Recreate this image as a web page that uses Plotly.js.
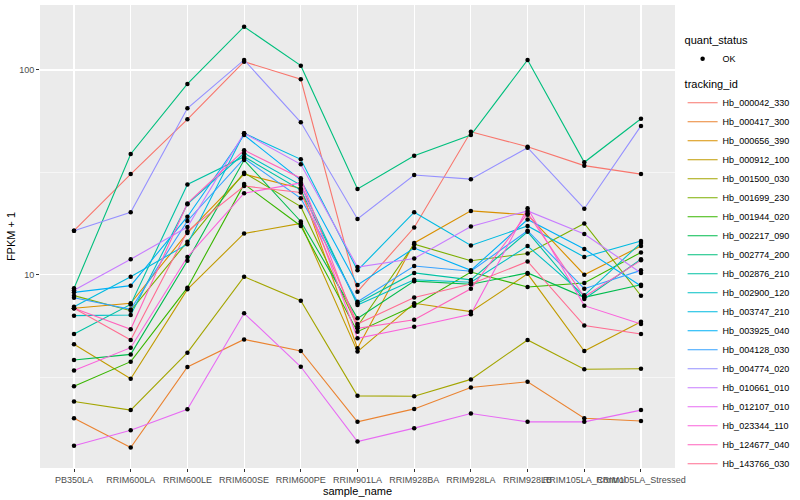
<!DOCTYPE html>
<html><head><meta charset="utf-8">
<script src="https://cdn.plot.ly/plotly-3.0.1.min.js"></script>
<style>html,body{margin:0;padding:0;background:#fff}#chart{width:800px;height:500px}</style>
</head><body><div id="chart"></div>
<script>
const categories = ["PB350LA","RRIM600LA","RRIM600LE","RRIM600SE","RRIM600PE","RRIM901LA","RRIM928BA","RRIM928LA","RRIM928LB","RRIM105LA_Control","RRIM105LA_Stressed"];
const trackingIds = ["Hb_000042_330","Hb_000417_300","Hb_000656_390","Hb_000912_100","Hb_001500_030","Hb_001699_230","Hb_001944_020","Hb_002217_090","Hb_002774_200","Hb_002876_210","Hb_002900_120","Hb_003747_210","Hb_003925_040","Hb_004128_030","Hb_004774_020","Hb_010661_010","Hb_012107_010","Hb_023344_110","Hb_124677_040","Hb_143766_030"];
const hb000042 = [16.4, 31.0, 57.4, 109.8, 90.1, 8.26, 17.0, 49.9, 42.2, 34.1, 31.0];
const hb000417 = [1.99, 1.43, 3.54, 4.83, 4.24, 1.91, 2.21, 2.81, 3.0, 1.99, 1.93];
const hb000656 = [6.86, 7.25, 16.0, 31.0, 26.4, 4.37, 14.3, 20.5, 19.6, 10.0, 13.8];
const hb000912 = [4.57, 3.10, 8.48, 15.9, 17.8, 4.21, 7.25, 6.6, 10.1, 4.24, 5.89];
const hb001500 = [2.40, 2.18, 4.16, 9.77, 7.47, 2.56, 2.55, 3.08, 4.80, 3.45, 3.47];
const hb001699 = [7.9, 6.67, 14.5, 31.5, 21.5, 5.6, 14.1, 11.7, 12.7, 17.8, 7.89];
const hb001944 = [2.85, 3.76, 8.64, 27.7, 17.3, 5.27, 7.06, 10.3, 8.71, 9.11, 12.85];
const hb002217 = [3.83, 4.08, 11.7, 36.3, 18.2, 6.12, 9.3, 8.98, 10.2, 7.75, 8.93];
const hb002774 = [8.58, 38.9, 85.5, 162.7, 105, 26.2, 38.1, 48.1, 111.9, 35.4, 57.8];
const hb002876 = [5.13, 7.16, 27.6, 37.7, 25.9, 7.25, 10.2, 9.43, 16.2, 7.61, 11.9];
const hb002900 = [6.31, 6.35, 22.1, 39.2, 27.4, 7.11, 9.45, 9.18, 13.8, 7.93, 14.3];
const hb003747 = [6.98, 9.77, 14.1, 49.1, 36.6, 10.5, 20.2, 13.9, 17.3, 12.2, 14.6];
const hb003925 = [8.2, 8.84, 19.2, 48.1, 29.0, 8.9, 13.5, 10.5, 18.6, 13.35, 8.81];
const hb004128 = [7.72, 6.77, 18.3, 37.0, 23.6, 7.38, 11.03, 10.4, 16.4, 8.54, 10.5];
const hb004774 = [16.4, 20.2, 65, 112, 55.5, 18.7, 30.7, 29.3, 41.7, 21.0, 53.3];
const hb010661 = [8.4, 11.9, 17.1, 49.1, 34.6, 10.9, 12.0, 17.2, 20.5, 15.8, 10.2];
const hb012107 = [1.46, 1.74, 2.20, 6.48, 3.55, 1.53, 1.78, 2.10, 1.91, 1.91, 2.18];
const hb023344 = [3.40, 4.40, 12.2, 25.0, 28.1, 4.89, 5.57, 6.41, 21.1, 7.06, 5.74];
const hb124677 = [6.86, 5.41, 22.3, 40.6, 29.6, 5.47, 6.03, 8.54, 19.95, 7.8, 11.75];
const hb143766 = [6.86, 4.80, 16.3, 27.1, 25.2, 5.74, 7.74, 9.0, 11.6, 5.64, 5.13];
const yTickVals = [10, 100];
const yTickText = ["10", "100"];
const yMinorVals = [3.1623, 31.623];

const seriesValues = [hb000042,hb000417,hb000656,hb000912,hb001500,hb001699,hb001944,hb002217,hb002774,hb002876,hb002900,hb003747,hb003925,hb004128,hb004774,hb010661,hb012107,hb023344,hb124677,hb143766];
const colors = ["#F8766D","#EA8331","#D89000","#C09B00","#A3A500","#7CAE00","#39B600","#00BB4E","#00BF7D","#00C1A3","#00BFC4","#00BAE0","#00B0F6","#35A2FF","#9590FF","#C77CFF","#E76BF3","#FA62DB","#FF62BC","#FF6C91"];

const traces = trackingIds.map((id, i) => ({
  type: 'scatter', mode: 'lines', x: categories, y: seriesValues[i], name: id,
  line: {color: colors[i], width: 1.1}, legend: 'legend2', hoverinfo: 'skip'
}));
const px = [], py = [];
seriesValues.forEach(vals => vals.forEach((v, j) => { px.push(categories[j]); py.push(v); }));
traces.push({type: 'scatter', mode: 'markers', x: px, y: py, name: 'OK',
  marker: {color: 'black', size: 4.5}, legend: 'legend', hoverinfo: 'skip'});

const layout = {
  width: 800, height: 500,
  margin: {l: 40, r: 116, t: 5, b: 32},
  paper_bgcolor: 'white', plot_bgcolor: '#EBEBEB',
  font: {family: 'Liberation Sans, Arial, sans-serif', color: '#4D4D4D', size: 9},
  showlegend: true,
  xaxis: {
    type: 'category', categoryorder: 'array', categoryarray: categories,
    range: [-0.6, 10.6], tickangle: 0, showgrid: true, gridcolor: 'white', gridwidth: 1.1,
    ticks: 'outside', ticklen: 3, tickcolor: '#333333', tickfont: {size: 9, color: '#4D4D4D'},
    zeroline: false, showline: false, automargin: false,
    title: {text: 'sample_name', font: {size: 11, color: 'black'}, standoff: 0}
  },
  yaxis: {
    type: 'log', range: [0.0557, 2.3175], tickvals: yTickVals, ticktext: yTickText,
    showgrid: true, gridcolor: 'white', gridwidth: 1.1,
    ticks: 'outside', ticklen: 3, tickcolor: '#333333', tickfont: {size: 9, color: '#4D4D4D'},
    zeroline: false, showline: false, automargin: false,
    minor: {tickvals: yMinorVals, showgrid: true, gridcolor: 'white', gridwidth: 0.55, ticks: ''},
    title: {text: 'FPKM + 1', font: {size: 11, color: 'black'}, standoff: 1}
  },
  legend: {
    x: 1.012, xanchor: 'left', y: 0.946, yanchor: 'top', bgcolor: 'rgba(0,0,0,0)',
    title: {text: 'quant_status', font: {size: 11, color: 'black'}},
    font: {size: 9, color: 'black'}, itemwidth: 30
  },
  legend2: {
    x: 1.012, xanchor: 'left', y: 0.851, yanchor: 'top', bgcolor: 'rgba(0,0,0,0)',
    title: {text: 'tracking_id', font: {size: 11, color: 'black'}},
    font: {size: 9, color: 'black'}, itemwidth: 30, tracegroupgap: 0
  }
};
Plotly.newPlot('chart', traces, layout, {staticPlot: true, displayModeBar: false});
</script></body></html>
